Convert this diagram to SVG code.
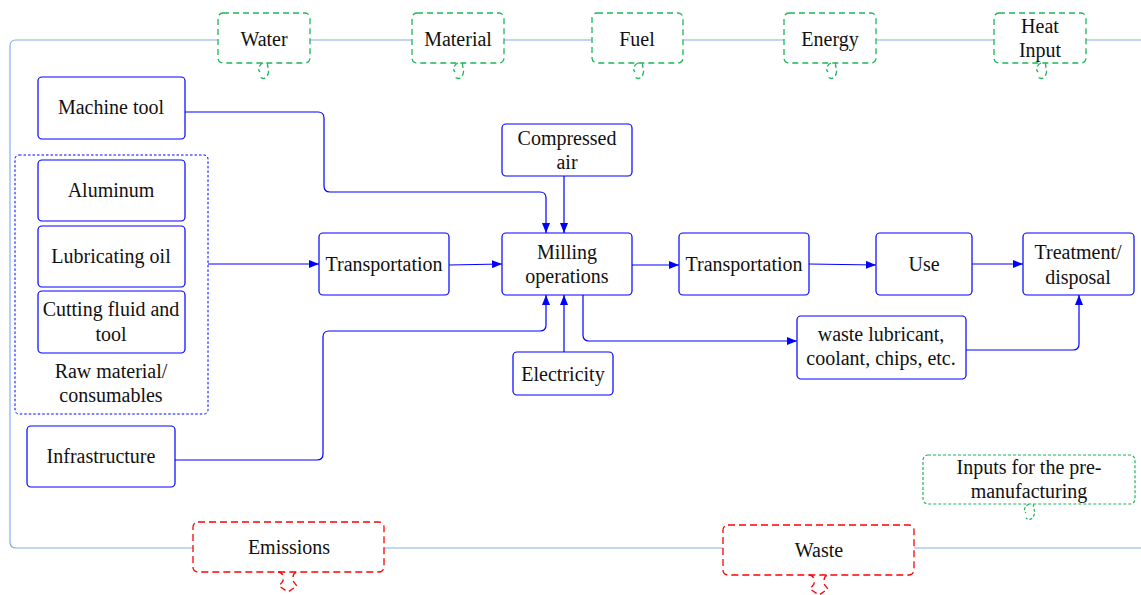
<svg xmlns="http://www.w3.org/2000/svg" width="1141" height="595" viewBox="0 0 1141 595">
<style>
text{font-family:'Liberation Serif','Times New Roman',Times,serif;font-size:20px;fill:#111;text-anchor:middle}
.node{fill:#fff;stroke:#0000ff;stroke-width:1.2}
.grp{fill:none;stroke:#0000ff;stroke-width:1;stroke-dasharray:2.5,2}
.con{fill:none;stroke:#0000ff;stroke-width:1.2}
.frame{fill:none;stroke:#85aee8;stroke-width:1.2}
.gc{fill:#fff;stroke:#1fb55a;stroke-width:1.3;stroke-dasharray:6,4}
.gt{fill:none;stroke:#1fb55a;stroke-width:1.3;stroke-dasharray:5,3}
.gd{fill:#fff;stroke:#1fb55a;stroke-width:1.2;stroke-dasharray:3,2}
.gdt{fill:none;stroke:#1fb55a;stroke-width:1.2;stroke-dasharray:3,2}
.rc{fill:#fff;stroke:#ff0000;stroke-width:1.3;stroke-dasharray:7,4}
.rt{fill:none;stroke:#ff0000;stroke-width:1.3;stroke-dasharray:6,4}
</style>
<defs>
<marker id="ah" viewBox="0 0 10 8" refX="10" refY="4" markerWidth="10" markerHeight="8" markerUnits="userSpaceOnUse" orient="auto">
<path d="M0,0 L10,4 L0,8 z" fill="#0000ff"/>
</marker>
<path id="gtail" d="M1,0 C-3,2 -5,6 -2,9 M6,0 C4,3 8,6 6,11 C5,15 1,17 -2,14"/>
<path id="rtail" d="M-10,0 Q-5,0 -5,6 L-5,9 L-9,14 L0,20 L9,14 L5,9 L5,6 Q5,0 10,0"/>
</defs>

<g id="frame">
<path class="frame" d="M1141,40 H16 Q10,40 10,46 V542 Q10,548 16,548 H1141"/>
</g>

<g id="connectors">
<path class="con" d="M185,112 H318 Q324,112 324,118 V186 Q324,192 330,192 H540 Q546,192 546,198 V233" marker-end="url(#ah)"/>
<path class="con" d="M564,176 V233" marker-end="url(#ah)"/>
<path class="con" d="M208,264 H319" marker-end="url(#ah)"/>
<path class="con" d="M449,265 L502,264" marker-end="url(#ah)"/>
<path class="con" d="M632,265 H679" marker-end="url(#ah)"/>
<path class="con" d="M809,264 L876,265" marker-end="url(#ah)"/>
<path class="con" d="M972,264 H1023" marker-end="url(#ah)"/>
<path class="con" d="M175,460 H317 Q323,460 323,454 V337 Q323,331 329,331 H540 Q546,331 546,325 V295" marker-end="url(#ah)"/>
<path class="con" d="M564,352 V295" marker-end="url(#ah)"/>
<path class="con" d="M583,295 V335 Q583,341 589,341 H797" marker-end="url(#ah)"/>
<path class="con" d="M966,350 H1073 Q1079,350 1079,344 V295" marker-end="url(#ah)"/>
</g>

<g id="water">
<rect class="gc" x="218" y="13" width="92" height="50" rx="5"/>
<use href="#gtail" class="gt" x="262" y="63"/>
<text x="264" y="46">Water</text>
</g>
<g id="material">
<rect class="gc" x="412" y="13" width="92" height="50" rx="5"/>
<use href="#gtail" class="gt" x="457" y="63"/>
<text x="458" y="46">Material</text>
</g>
<g id="fuel">
<rect class="gc" x="592" y="13" width="91" height="50" rx="5"/>
<use href="#gtail" class="gt" x="637" y="63"/>
<text x="637" y="46">Fuel</text>
</g>
<g id="energy">
<rect class="gc" x="784" y="13" width="92" height="50" rx="5"/>
<use href="#gtail" class="gt" x="830" y="63"/>
<text x="830" y="46">Energy</text>
</g>
<g id="heat-input">
<rect class="gc" x="994" y="13" width="92" height="50" rx="5"/>
<use href="#gtail" class="gt" x="1040" y="63"/>
<text x="1040" y="33">Heat</text>
<text x="1040" y="57">Input</text>
</g>

<g id="machine-tool">
<rect class="node" x="38" y="77" width="147" height="62" rx="4"/>
<text x="111" y="114">Machine tool</text>
</g>

<g id="raw-material">
<rect class="grp" x="15" y="155" width="193" height="259" rx="4"/>
<text x="111" y="378">Raw material/</text>
<text x="111" y="402">consumables</text>
</g>
<g id="aluminum">
<rect class="node" x="38" y="160" width="147" height="61" rx="4"/>
<text x="111" y="197">Aluminum</text>
</g>
<g id="lubricating-oil">
<rect class="node" x="38" y="226" width="147" height="61" rx="4"/>
<text x="111" y="263">Lubricating oil</text>
</g>
<g id="cutting-fluid">
<rect class="node" x="38" y="291" width="147" height="62" rx="4"/>
<text x="111" y="316">Cutting fluid and</text>
<text x="111" y="341">tool</text>
</g>

<g id="infrastructure">
<rect class="node" x="27" y="426" width="148" height="61" rx="4"/>
<text x="101" y="463">Infrastructure</text>
</g>

<g id="transportation-1">
<rect class="node" x="319" y="233" width="130" height="62" rx="4"/>
<text x="384" y="271">Transportation</text>
</g>

<g id="compressed-air">
<rect class="node" x="502" y="124" width="130" height="52" rx="4"/>
<text x="567" y="145">Compressed</text>
<text x="567" y="169">air</text>
</g>

<g id="milling">
<rect class="node" x="502" y="233" width="130" height="62" rx="4"/>
<text x="567" y="259">Milling</text>
<text x="567" y="283">operations</text>
</g>

<g id="electricity">
<rect class="node" x="513" y="352" width="100" height="43" rx="4"/>
<text x="563" y="381">Electricity</text>
</g>

<g id="transportation-2">
<rect class="node" x="679" y="233" width="130" height="62" rx="4"/>
<text x="744" y="271">Transportation</text>
</g>

<g id="use">
<rect class="node" x="876" y="233" width="96" height="62" rx="4"/>
<text x="924" y="271">Use</text>
</g>

<g id="treatment">
<rect class="node" x="1023" y="233" width="111" height="62" rx="4"/>
<text x="1078" y="259">Treatment/</text>
<text x="1078" y="284">disposal</text>
</g>

<g id="waste-lubricant">
<rect class="node" x="797" y="316" width="169" height="63" rx="4"/>
<text x="881" y="341">waste lubricant,</text>
<text x="881" y="365">coolant, chips, etc.</text>
</g>

<g id="pre-manufacturing">
<rect class="gd" x="923" y="455" width="212" height="49" rx="5"/>
<use href="#gtail" class="gdt" x="1028" y="504"/>
<text x="1029" y="474">Inputs for the pre-</text>
<text x="1029" y="498">manufacturing</text>
</g>

<g id="emissions">
<rect class="rc" x="193" y="522" width="191" height="50" rx="5"/>
<use href="#rtail" class="rt" x="288" y="572"/>
<text x="289" y="554">Emissions</text>
</g>

<g id="waste">
<rect class="rc" x="723" y="525" width="191" height="50" rx="5"/>
<use href="#rtail" class="rt" x="819" y="575"/>
<text x="819" y="557">Waste</text>
</g>
</svg>
